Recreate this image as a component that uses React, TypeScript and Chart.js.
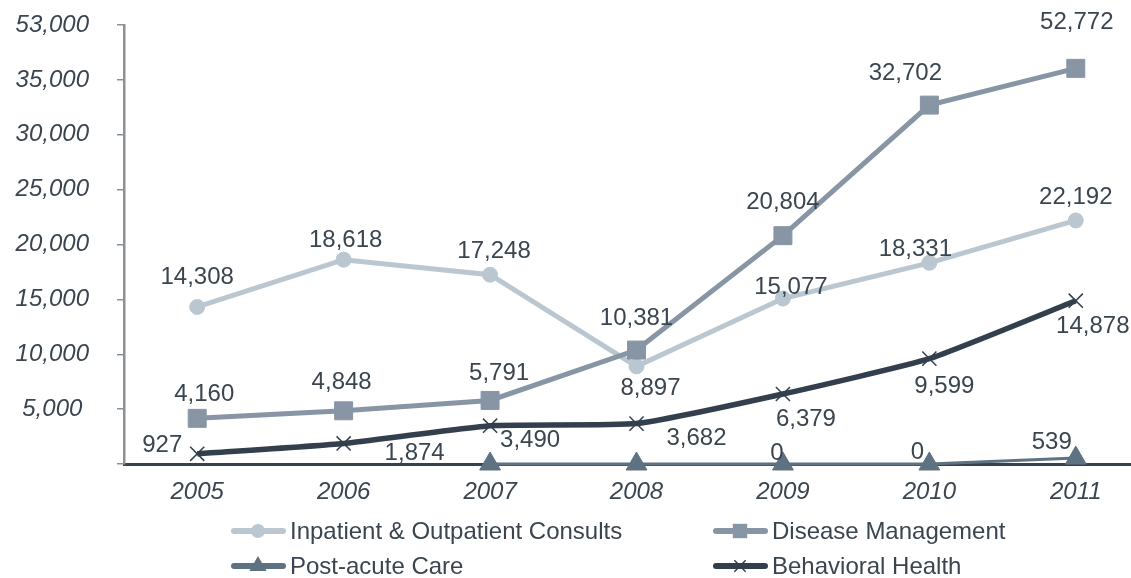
import React, { useEffect, useRef } from "react";
import { Chart, registerables } from "chart.js";

Chart.register(...registerables);

// ---------- data ----------
const years = ["2005", "2006", "2007", "2008", "2009", "2010", "2011"];
const inpatientValues = [14308, 18618, 17248, 8897, 15077, 18331, 22192];
const diseaseValues = [4160, 4848, 5791, 10381, 20804, 32702, 52772];
// the 2011 point sits just above the axis break (the axis jumps 35,000 -> 53,000)
const diseasePlotValues = [4160, 4848, 5791, 10381, 20804, 32702, 36050];
const postAcuteValues: (number | null)[] = [null, null, 0, 0, 0, 0, 539];
const postAcuteLabelShown = [false, false, false, false, true, true, true];
const behavioralValues = [927, 1874, 3490, 3682, 6379, 9599, 14878];
const yTickLabels = ["", "5,000", "10,000", "15,000", "20,000", "25,000", "30,000", "35,000", "53,000"];
const seriesNames = [
  "Inpatient & Outpatient Consults",
  "Disease Management",
  "Post-acute Care",
  "Behavioral Health",
];

// ---------- styles ----------
const FONT = '"Liberation Sans", Arial, Helvetica, sans-serif';
const TEXT = "#3b4550";
const C_INPATIENT = "#bac7d0";
const C_DISEASE = "#8795a5";
const C_POST = "#5e7282";
const C_BEHAV = "#333f4c";
const FS = 24;

// label offsets (dx, dy) relative to each point
const labelOffsets: ([number, number] | null)[][] = [
  [[0, -30], [2, -19], [4, -23], [14, 22], [8, -11], [-14, -13], [0, -23]],
  [[7, -24], [-2, -28], [9, -27], [0, -32], [0, -33], [-24, -32], [1, -46]],
  [null, null, null, null, [-6, -11], [-12, -12], [-24, -16]],
  [[-35, -8], [71, 10], [40, 15], [60, 15], [23, 25], [15, 28], [17, 26]],
];
const labelValues: (number | null)[][] = [
  inpatientValues,
  diseaseValues,
  postAcuteValues.map((v, i) => (postAcuteLabelShown[i] ? v : null)),
  behavioralValues,
];

const valueLabelPlugin = {
  id: "valueLabels",
  afterDatasetsDraw(chart: any) {
    const ctx = chart.ctx;
    ctx.save();
    ctx.font = `${FS}px ${FONT}`;
    ctx.fillStyle = TEXT;
    ctx.textAlign = "center";
    ctx.textBaseline = "middle";
    chart.data.datasets.forEach((_ds: any, i: number) => {
      const meta = chart.getDatasetMeta(i);
      meta.data.forEach((pt: any, j: number) => {
        const v = labelValues[i][j];
        const off = labelOffsets[i][j];
        if (v === null || v === undefined || !off) return;
        ctx.fillText(v.toLocaleString("en-US"), pt.x + off[0], pt.y + off[1]);
      });
    });
    ctx.restore();
  },
};

const legendItems = [
  { x: 231, y: 531, color: C_INPATIENT, style: "circle" },
  { x: 713, y: 531, color: C_DISEASE, style: "rect" },
  { x: 231, y: 566, color: C_POST, style: "triangle" },
  { x: 713, y: 566, color: C_BEHAV, style: "crossRot" },
];
const legendSizes: Record<string, number> = { circle: 7, rect: 10, triangle: 10, crossRot: 8 };

function drawMarker(ctx: CanvasRenderingContext2D, style: string, r: number, x: number, y: number) {
  ctx.beginPath();
  if (style === "circle") {
    ctx.arc(x, y, r, 0, Math.PI * 2);
    ctx.fill();
  } else if (style === "rect") {
    ctx.rect(x - r * 0.72, y - r * 0.72, r * 1.44, r * 1.44);
    ctx.fill();
  } else if (style === "triangle") {
    ctx.moveTo(x, y - r);
    ctx.lineTo(x + r * 0.866, y + r * 0.5);
    ctx.lineTo(x - r * 0.866, y + r * 0.5);
    ctx.closePath();
    ctx.fill();
  } else {
    const d = r * 0.707;
    ctx.moveTo(x - d, y - d);
    ctx.lineTo(x + d, y + d);
    ctx.moveTo(x + d, y - d);
    ctx.lineTo(x - d, y + d);
    ctx.stroke();
  }
}

const legendPlugin = {
  id: "customLegend",
  afterDraw(chart: any) {
    const ctx = chart.ctx;
    ctx.save();
    legendItems.forEach((it, i) => {
      ctx.strokeStyle = it.color;
      ctx.lineWidth = 6;
      ctx.lineCap = "round";
      ctx.beginPath();
      ctx.moveTo(it.x + 3, it.y);
      ctx.lineTo(it.x + 52, it.y);
      ctx.stroke();
      ctx.lineCap = "butt";
      ctx.fillStyle = it.color;
      ctx.strokeStyle = C_BEHAV;
      ctx.lineWidth = 1.5;
      drawMarker(ctx, it.style, legendSizes[it.style], it.x + 27, it.y);
      ctx.fillStyle = TEXT;
      ctx.font = `${FS}px ${FONT}`;
      ctx.textAlign = "left";
      ctx.textBaseline = "middle";
      ctx.fillText(seriesNames[i], it.x + 59, it.y + 1);
    });
    ctx.restore();
  },
};

export default function App() {
  const ref = useRef<HTMLCanvasElement | null>(null);

  useEffect(() => {
    if (!ref.current) return;
    const chart = new Chart(ref.current, {
      type: "line",
      data: {
        labels: years,
        datasets: [
          {
            label: seriesNames[0],
            data: inpatientValues,
            borderColor: C_INPATIENT,
            backgroundColor: C_INPATIENT,
            borderWidth: 5,
            pointStyle: "circle",
            pointRadius: 7.5,
            pointHoverRadius: 7.5,
            pointBorderWidth: 1,
            tension: 0,
            clip: false,
            order: 3,
          },
          {
            label: seriesNames[1],
            data: diseasePlotValues,
            borderColor: C_DISEASE,
            backgroundColor: C_DISEASE,
            borderWidth: 5,
            pointStyle: "rect",
            pointRadius: 12.7,
            pointHoverRadius: 12.7,
            pointBorderWidth: 1,
            tension: 0,
            clip: false,
            order: 2,
          },
          {
            label: seriesNames[2],
            data: postAcuteValues,
            borderColor: C_POST,
            backgroundColor: C_POST,
            borderWidth: 3,
            pointStyle: "triangle",
            pointRadius: 12,
            pointHoverRadius: 12,
            pointBorderWidth: 1,
            tension: 0,
            clip: false,
            order: 1,
          },
          {
            label: seriesNames[3],
            data: behavioralValues,
            borderColor: C_BEHAV,
            backgroundColor: C_BEHAV,
            borderWidth: 5.5,
            pointStyle: "crossRot",
            pointRadius: 10,
            pointHoverRadius: 10,
            pointBorderWidth: 1.5,
            pointBorderColor: C_BEHAV,
            tension: 0.15,
            clip: false,
            order: 0,
          },
        ] as any,
      },
      options: {
        responsive: false,
        devicePixelRatio: 1,
        animation: false,
        events: [],
        layout: { autoPadding: false, padding: { top: 25, left: 0, right: 0, bottom: 0 } },
        plugins: {
          legend: { display: false },
          tooltip: { enabled: false },
        },
        scales: {
          x: {
            offset: true,
            grid: { display: true, drawOnChartArea: false, drawTicks: false },
            border: { display: true, color: "#37424d", width: 3 },
            ticks: {
              color: TEXT,
              font: { family: FONT, size: FS, style: "italic" },
              padding: 14,
              maxRotation: 0,
            },
            afterFit: (scale: any) => {
              scale.height = 114;
              scale.paddingLeft = 0;
              scale.paddingRight = 0;
            },
          },
          y: {
            min: 0,
            max: 40000,
            grid: { display: true, drawOnChartArea: false, drawTicks: true, tickLength: 7, color: "#8c9196", lineWidth: 1.5 },
            border: { display: true, color: "#8c9196", width: 2.5 },
            ticks: {
              stepSize: 5000,
              crossAlign: "center",
              padding: 28,
              color: TEXT,
              font: { family: FONT, size: FS, style: "italic" },
              callback: (_v: any, i: number) => yTickLabels[i],
            },
            afterFit: (scale: any) => {
              scale.width = 124;
              scale.paddingTop = 0;
              scale.paddingBottom = 0;
            },
          },
        },
      } as any,
      plugins: [valueLabelPlugin, legendPlugin],
    });
    return () => chart.destroy();
  }, []);

  return (
    <div
      style={{
        position: "absolute",
        left: 0,
        top: 0,
        width: 1131,
        height: 578,
        overflow: "hidden",
        background: "#ffffff",
      }}
    >
      <canvas ref={ref} width={1149} height={578} style={{ display: "block" }} />
    </div>
  );
}
